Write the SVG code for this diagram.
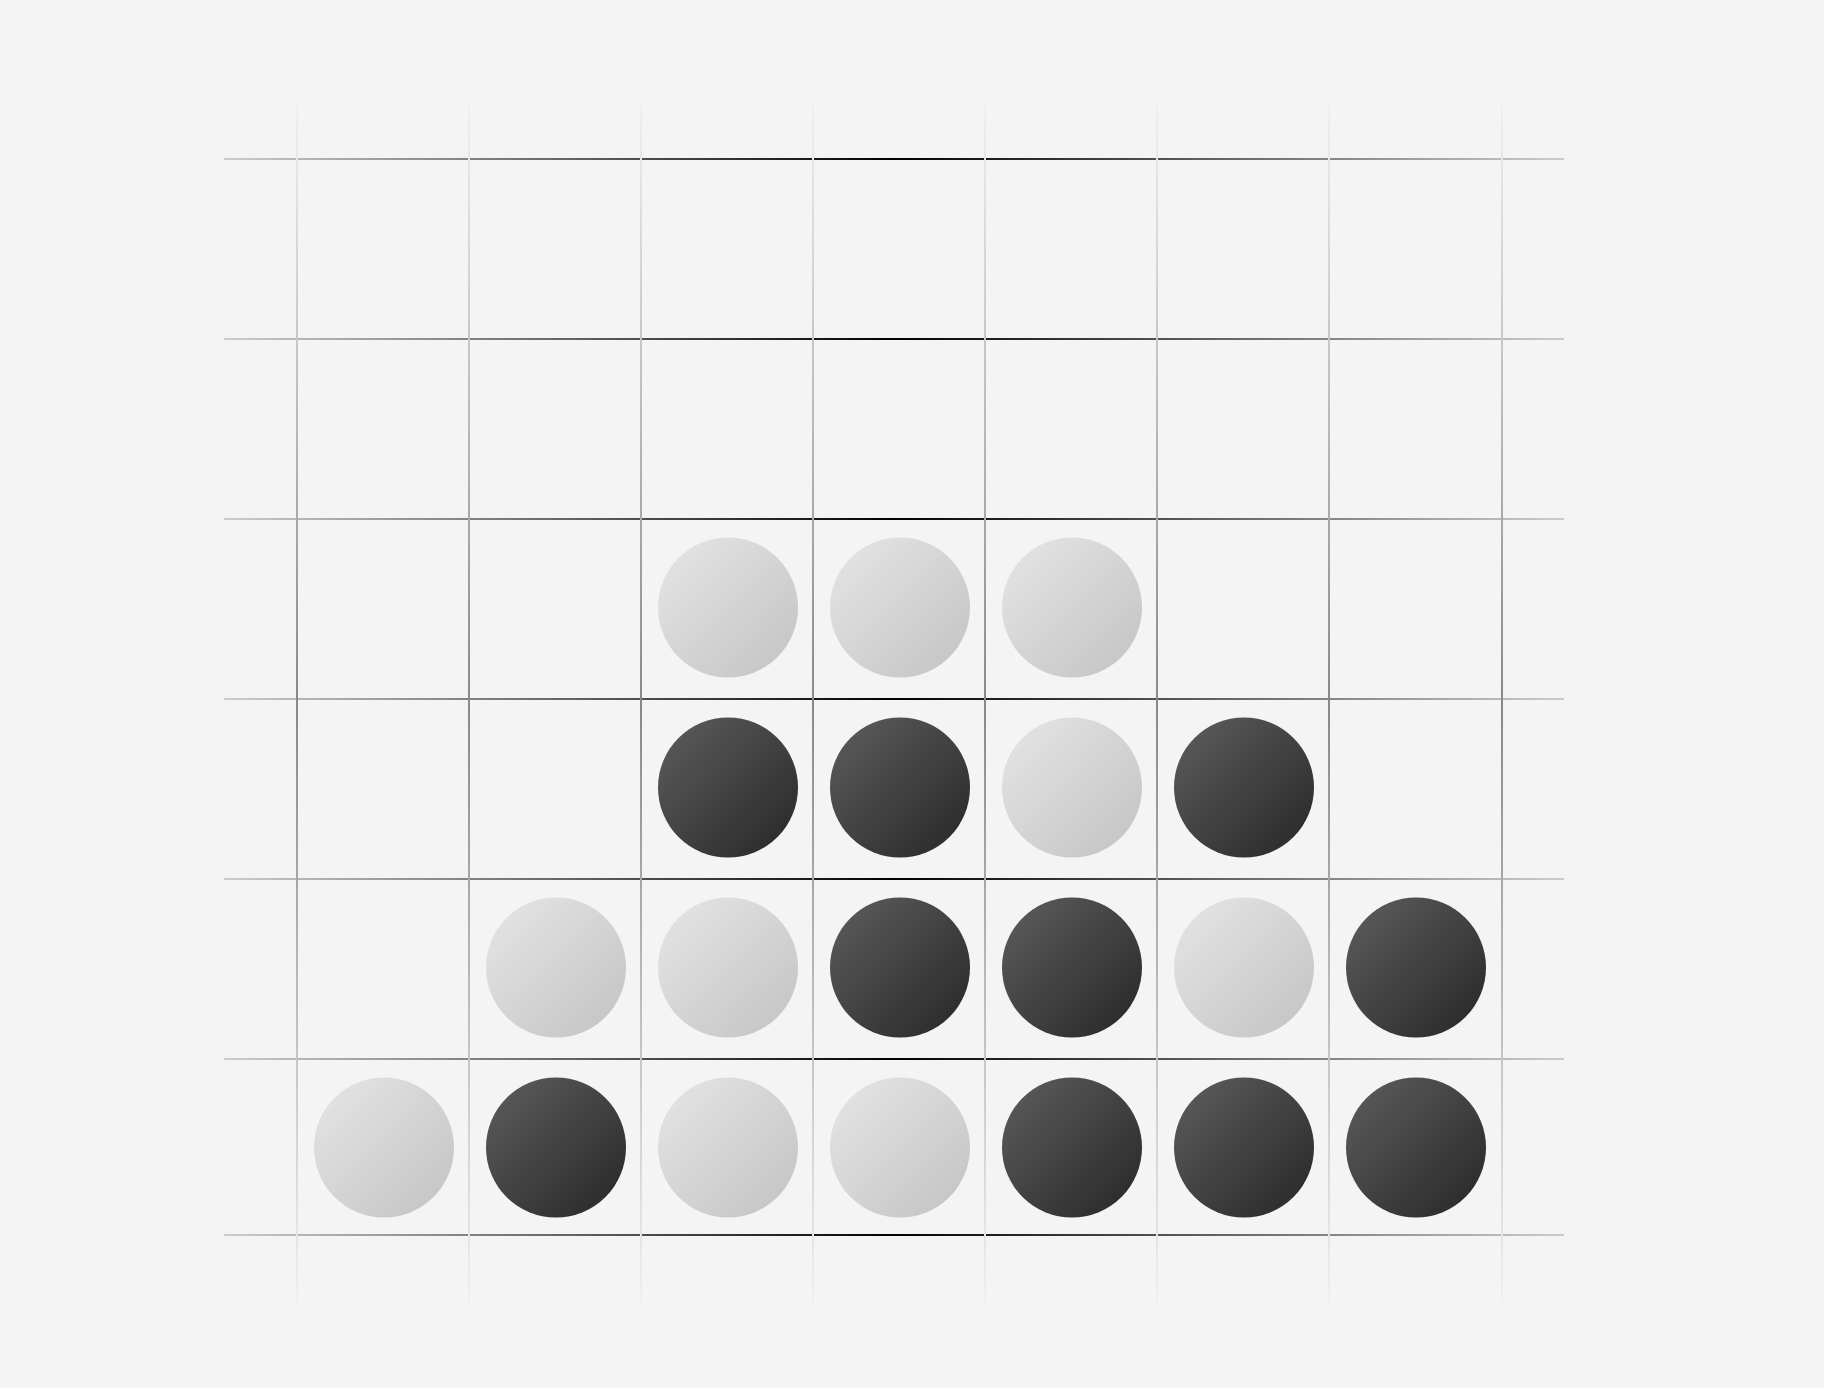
<svg xmlns="http://www.w3.org/2000/svg" width="1824" height="1388" viewBox="0 0 1824 1388">
<defs>
<linearGradient id="hg" gradientUnits="userSpaceOnUse" x1="224" y1="0" x2="1564" y2="0">
<stop offset="0" stop-color="#cccccc"/>
<stop offset="0.5" stop-color="#000000"/>
<stop offset="1" stop-color="#cccccc"/>
</linearGradient>
<linearGradient id="vg" gradientUnits="userSpaceOnUse" x1="0" y1="104" x2="0" y2="1303">
<stop offset="0" stop-color="#f0f0f0"/>
<stop offset="0.5" stop-color="#888888"/>
<stop offset="1" stop-color="#f0f0f0"/>
</linearGradient>
<linearGradient id="lightG" x1="0" y1="0" x2="1" y2="1">
<stop offset="0" stop-color="#e6e6e6"/>
<stop offset="1" stop-color="#c2c2c2"/>
</linearGradient>
<linearGradient id="darkG" x1="0" y1="0" x2="1" y2="1">
<stop offset="0" stop-color="#5e5e5e"/>
<stop offset="1" stop-color="#262626"/>
</linearGradient>
</defs>
<style>
.h{stroke:url(#hg);stroke-width:2;fill:none}
.v{stroke:url(#vg);stroke-width:2;fill:none}
.light{fill:url(#lightG)}
.dark{fill:url(#darkG)}
</style>
<rect x="0" y="0" width="1824" height="1388" fill="#f4f4f4"/>
<g id="grid">
<line class="h" x1="224" y1="159" x2="1564" y2="159"/>
<line class="h" x1="224" y1="339" x2="1564" y2="339"/>
<line class="h" x1="224" y1="519" x2="1564" y2="519"/>
<line class="h" x1="224" y1="699" x2="1564" y2="699"/>
<line class="h" x1="224" y1="879" x2="1564" y2="879"/>
<line class="h" x1="224" y1="1059" x2="1564" y2="1059"/>
<line class="h" x1="224" y1="1235" x2="1564" y2="1235"/>
<line class="v" x1="297" y1="104" x2="297" y2="1303"/>
<line class="v" x1="469" y1="104" x2="469" y2="1303"/>
<line class="v" x1="641" y1="104" x2="641" y2="1303"/>
<line class="v" x1="813" y1="104" x2="813" y2="1303"/>
<line class="v" x1="985" y1="104" x2="985" y2="1303"/>
<line class="v" x1="1157" y1="104" x2="1157" y2="1303"/>
<line class="v" x1="1329" y1="104" x2="1329" y2="1303"/>
<line class="v" x1="1502" y1="104" x2="1502" y2="1303"/>
</g>
<g id="stones">
<circle class="light" cx="728" cy="607.5" r="70"/>
<circle class="light" cx="900" cy="607.5" r="70"/>
<circle class="light" cx="1072" cy="607.5" r="70"/>
<circle class="dark" cx="728" cy="787.5" r="70"/>
<circle class="dark" cx="900" cy="787.5" r="70"/>
<circle class="light" cx="1072" cy="787.5" r="70"/>
<circle class="dark" cx="1244" cy="787.5" r="70"/>
<circle class="light" cx="556" cy="967.5" r="70"/>
<circle class="light" cx="728" cy="967.5" r="70"/>
<circle class="dark" cx="900" cy="967.5" r="70"/>
<circle class="dark" cx="1072" cy="967.5" r="70"/>
<circle class="light" cx="1244" cy="967.5" r="70"/>
<circle class="dark" cx="1416" cy="967.5" r="70"/>
<circle class="light" cx="384" cy="1147.5" r="70"/>
<circle class="dark" cx="556" cy="1147.5" r="70"/>
<circle class="light" cx="728" cy="1147.5" r="70"/>
<circle class="light" cx="900" cy="1147.5" r="70"/>
<circle class="dark" cx="1072" cy="1147.5" r="70"/>
<circle class="dark" cx="1244" cy="1147.5" r="70"/>
<circle class="dark" cx="1416" cy="1147.5" r="70"/>
</g>
</svg>
